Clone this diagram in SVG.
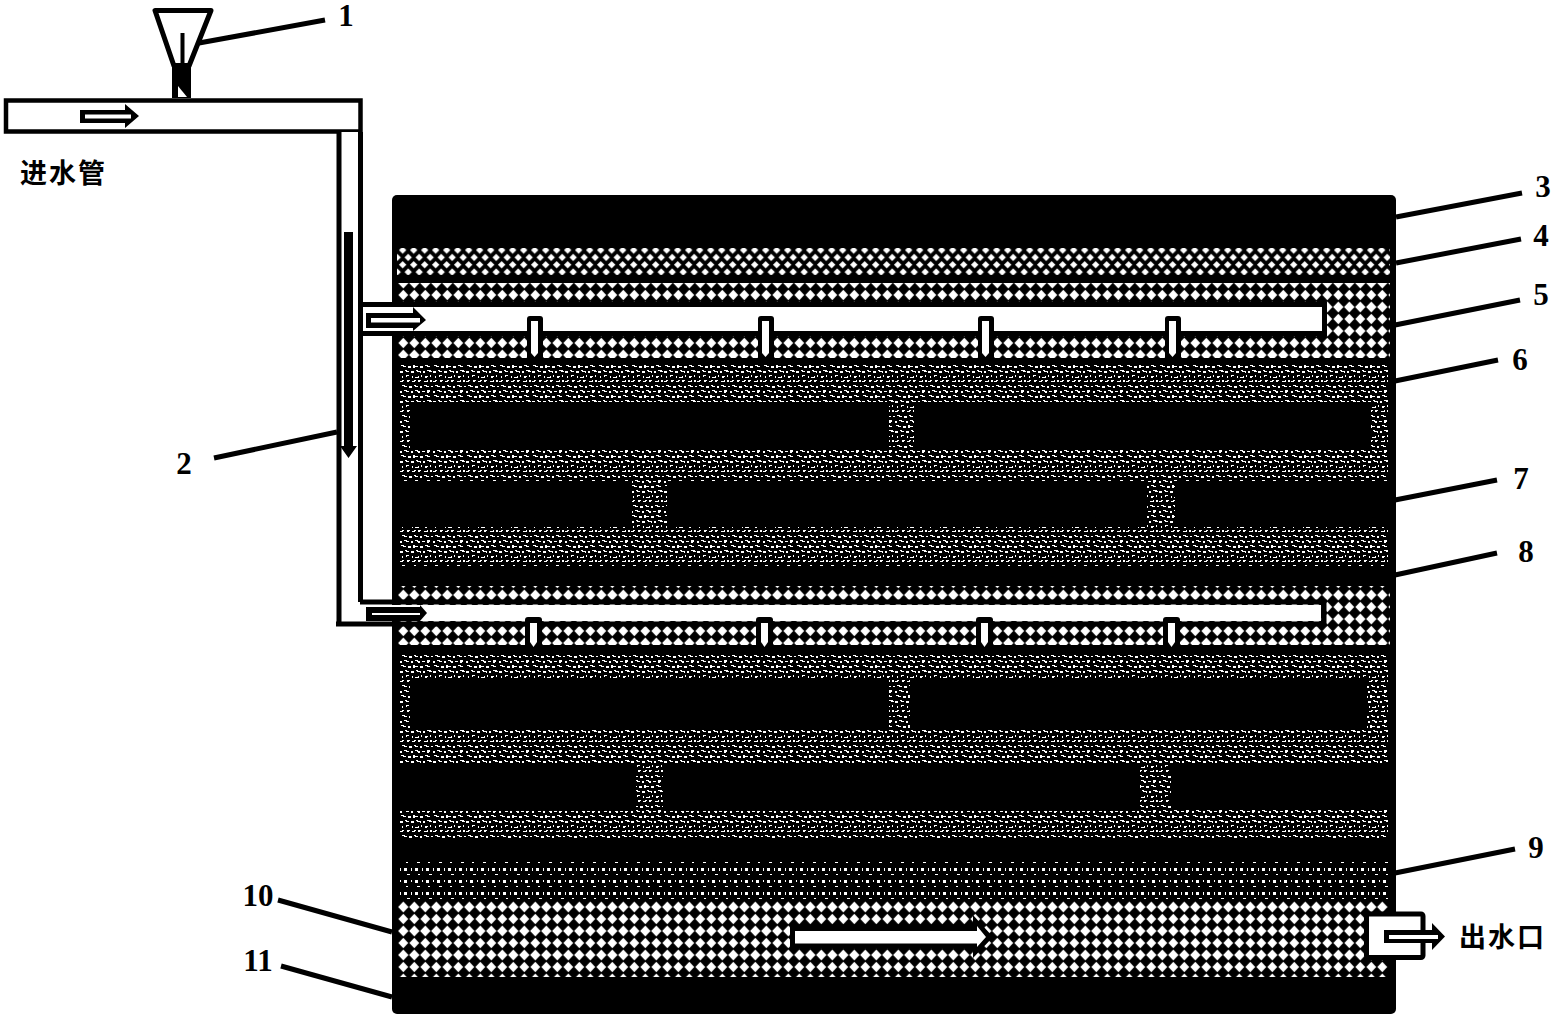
<svg xmlns="http://www.w3.org/2000/svg" width="1554" height="1018" viewBox="0 0 1554 1018">
<style>
.t{font-family:"Liberation Serif",serif;font-weight:bold;font-size:31px;fill:#000;text-anchor:middle}
.c{font-family:"Noto Sans CJK SC","Liberation Sans",sans-serif;font-weight:700;font-size:27px;fill:#000;letter-spacing:2px}
.l{stroke:#000;stroke-width:5;fill:none}
.p{fill:#fff;stroke:#000;stroke-width:4.5}
.w{fill:#fff}
.k{fill:#000}
</style>
<defs>
<pattern id="dia" width="11" height="24" patternUnits="userSpaceOnUse" x="397.8" y="901">
<rect width="11" height="24" fill="#000"/>
<path d="M5.5 0.5L10.7 6L5.5 11.5L0.3 6Z M5.5 12.8L10.4 18L5.5 23.2L0.6 18Z" fill="#fff"/>
</pattern>
<pattern id="dia5" href="#dia" x="397.8" y="277"/>
<pattern id="dia8" href="#dia" x="397.8" y="589"/>
<pattern id="mesh" width="11" height="14.6" patternUnits="userSpaceOnUse" x="397.2" y="246.5">
<rect width="11" height="14.6" fill="#000"/>
<path d="M5.5 0L9.2 3.6L5.5 7.2L1.8 3.6Z M0 7.4L3.7 11L0 14.6Z M11 7.4V14.6L7.3 11Z" fill="#fff"/>
</pattern>
<pattern id="grv" width="33" height="30" patternUnits="userSpaceOnUse" x="400" y="365" shape-rendering="crispEdges">
<rect width="33" height="30" fill="#000"/>
<path d="M1 0h3v1h2v1h-3v-1h-2z M8 1h3v2h-3z M13 0h2v1h3v1h-3v1h-2z M20 1h3v2h-3z M25 0h3v1h2v1h-3v-1h-2z
M0 6h3v2h-3z M5 5h2v1h2v1h-3v-1h-1z M11 6h3v2h-3z M16 5h2v1h3v2h-1v-1h-3v-1h-1z M23 6h2v2h-2z M27 5h4v1h1v1h-3v-1h-2z
M2 11h1v2h-1z M6 10h3v1h-2v1h-1z M12 11h1v2h-1z M15 12h3v-1h1v2h-4z M21 10h1v2h-1z M25 11h3v1h-1v1h-2z M30 10h1v2h-1z
M0 16h2v-1h2v1h-1v1h-3z M7 15h3v1h-1v1h-2z M12 16h2v-1h2v1h-1v1h-3z M18 15h3v1h-1v1h-2z M24 16h3v-1h1v2h-4z M30 15h2v2h-2z
M2 20h3v1h2v1h-3v-1h-2z M9 21h3v2h-3z M14 20h2v1h2v1h-3v-1h-1z M20 21h2v2h-2z M24 20h3v1h2v1h-3v-1h-2z M31 21h2v1h-2z
M0 26h2v2h-2z M4 25h3v1h2v1h-3v-1h-2z M11 26h2v2h-2z M15 25h3v1h2v2h-2v-1h-1v-1h-2z M22 26h3v1h-3z M27 25h3v2h-1v1h-2z" fill="#fff"/>
</pattern>
<pattern id="sm" width="22" height="24" patternUnits="userSpaceOnUse" x="403" y="861" shape-rendering="crispEdges">
<rect width="22" height="24" fill="#000"/>
<path d="M3 1h2v1h-2z M14 1h3v1h-3z M1 7h3v3h-3z M8 7h1v3h-1z M12 7h3v3h-3z M19 7h1v3h-1z M4 13h3v1h-3z M15 13h2v1h-2z M1 19h3v3h-3z M8 19h1v2h-1z M12 19h3v3h-3z M19 19h1v2h-1z" fill="#fff"/>
</pattern>
</defs>

<g id="tank">
<rect x="392" y="195" width="1004" height="819" rx="5" fill="#000"/>
</g>
<g id="layer-4"><rect x="397" y="248" width="993" height="27" fill="url(#mesh)"/></g>
<g id="layer-5"><rect x="398" y="283" width="992" height="75" fill="url(#dia5)"/></g>
<g id="layer-6">
<rect x="400" y="365" width="988" height="201" fill="url(#grv)"/>
<rect x="410" y="402" width="479" height="48" class="k"/>
<rect x="914" y="402" width="457" height="48" class="k"/>
<rect x="392" y="481" width="240" height="46" class="k"/>
<rect x="667" y="481" width="480" height="46" class="k"/>
<rect x="1175" y="481" width="221" height="46" class="k"/>
</g>
<g id="layer-8">
<rect x="398" y="586" width="992" height="59" fill="url(#dia8)"/>
</g>
<g id="layer-6b">
<rect x="400" y="652" width="988" height="186" fill="url(#grv)"/>
<rect x="410" y="680" width="479" height="48" class="k"/>
<rect x="910" y="680" width="457" height="48" class="k"/>
<rect x="392" y="765" width="244" height="46" class="k"/>
<rect x="663" y="765" width="477" height="46" class="k"/>
<rect x="1171" y="765" width="217" height="43" class="k"/>
</g>
<g id="layer-9"><rect x="400" y="861" width="988" height="39" fill="url(#sm)"/></g>
<g id="layer-10"><rect x="398" y="901" width="990" height="76" fill="url(#dia)"/></g>

<g id="funnel">
<path d="M155 10.5H211L189 66H174Z" fill="#fff" stroke="#000" stroke-width="5" stroke-linejoin="round"/>
<path d="M172 63H191V98H172Z" class="k"/>
<path d="M178 86L187 97H178Z" class="w"/>
<path d="M182.5 33V66" stroke="#000" stroke-width="4" fill="none"/>
</g>
<g id="inlet-pipe">
<rect class="p" x="6" y="100.5" width="354.5" height="31"/>
<path class="k" d="M80 110H125V104L139 116L125 128V123H80Z"/>
<path class="w" d="M85 114.5H131V118.5H85Z"/>
</g>
<g id="down-pipe">
<rect x="339" y="132" width="21" height="491" class="w"/>
<path class="l" d="M339 132V624.5M360.5 132V602"/>
<path class="k" d="M344 232H353V446H357L348.5 458L340 446H344Z"/>
</g>
<g id="distributor-upper">
<rect x="363" y="307" width="959" height="24" class="w"/>
<path class="l" d="M360 304.5H392M392 304.5H1324.5V333.5H360" />
<path class="k" d="M527 358V319Q527 316 530 316H540Q543 316 543 319V358Z"/>
<path class="w" d="M531 321H538V353L534.5 357L531 353Z"/>
<path class="k" d="M758 358V319Q758 316 761 316H771Q774 316 774 319V358Z"/>
<path class="w" d="M762 321H769V353L765.5 357L762 353Z"/>
<path class="k" d="M978 358V319Q978 316 981 316H991Q994 316 994 319V358Z"/>
<path class="w" d="M982 321H989V353L985.5 357L982 353Z"/>
<path class="k" d="M1165 358V319Q1165 316 1168 316H1178Q1181 316 1181 319V358Z"/>
<path class="w" d="M1169 321H1176V353L1172.5 357L1169 353Z"/>
<path class="k" d="M366 313H413V307L426 320L413 331V328H366Z"/>
<path class="w" d="M371 318H420V322.5H371Z"/>
</g>
<g id="distributor-lower">
<rect x="363" y="605" width="958" height="16" class="w"/>
<path class="l" d="M360 602H1324V624H336" />
<path class="k" d="M525 649V620Q525 617 528 617H539Q542 617 542 620V649Z"/>
<path class="w" d="M530 623H537V642L533.5 647L530 642Z"/>
<path class="k" d="M756 649V620Q756 617 759 617H770Q773 617 773 620V649Z"/>
<path class="w" d="M761 623H768V642L764.5 647L761 642Z"/>
<path class="k" d="M976 649V620Q976 617 979 617H990Q993 617 993 620V649Z"/>
<path class="w" d="M981 623H988V642L984.5 647L981 642Z"/>
<path class="k" d="M1163 649V620Q1163 617 1166 617H1177Q1180 617 1180 620V649Z"/>
<path class="w" d="M1168 623H1175V642L1171.5 647L1168 642Z"/>
<path class="k" d="M366 607H420V605L427 613L420 621H366Z"/>
<path class="w" d="M372 613H420V615H372Z"/>
</g>
<g id="flow-arrow">
<path class="k" d="M790 925H973V915L993 937L973 958V948H790Z"/>
<path class="w" d="M795 931H977V926L986 937L977 947V943.5H795Z"/>
</g>
<g id="outlet">
<rect x="1366.5" y="914" width="56.5" height="43.5" rx="2" class="w" stroke="#000" stroke-width="5"/>
<path class="k" d="M1384 930H1432V923L1445 936.5L1432 950V943H1384Z"/>
<path class="w" d="M1389 935H1438V939H1389Z"/>
</g>

<g id="connectors" stroke="#000" stroke-width="5" fill="none">
<path d="M199 43L325 20"/>
<path d="M214 458L337 432"/>
<path d="M1396 217L1522 193"/>
<path d="M1396 263L1521 239"/>
<path d="M1395 325L1520 300"/>
<path d="M1395 381L1498 360"/>
<path d="M1395 500L1497 480"/>
<path d="M1395 575L1497 553"/>
<path d="M1395 873L1515 849"/>
<path d="M278 900L392 932"/>
<path d="M281 966L392 997"/>
</g>

<g id="labels">
<text class="t" x="346" y="26">1</text>
<text class="t" x="184" y="474">2</text>
<text class="t" x="1543" y="197">3</text>
<text class="t" x="1541" y="246">4</text>
<text class="t" x="1541" y="305">5</text>
<text class="t" x="1520" y="370">6</text>
<text class="t" x="1521" y="489">7</text>
<text class="t" x="1526" y="562">8</text>
<text class="t" x="1536" y="858">9</text>
<text class="t" x="258" y="906">10</text>
<text class="t" x="258" y="971">11</text>
<text class="c" x="20" y="183">进水管</text>
<text class="c" x="1459" y="947">出水口</text>
</g>
</svg>
